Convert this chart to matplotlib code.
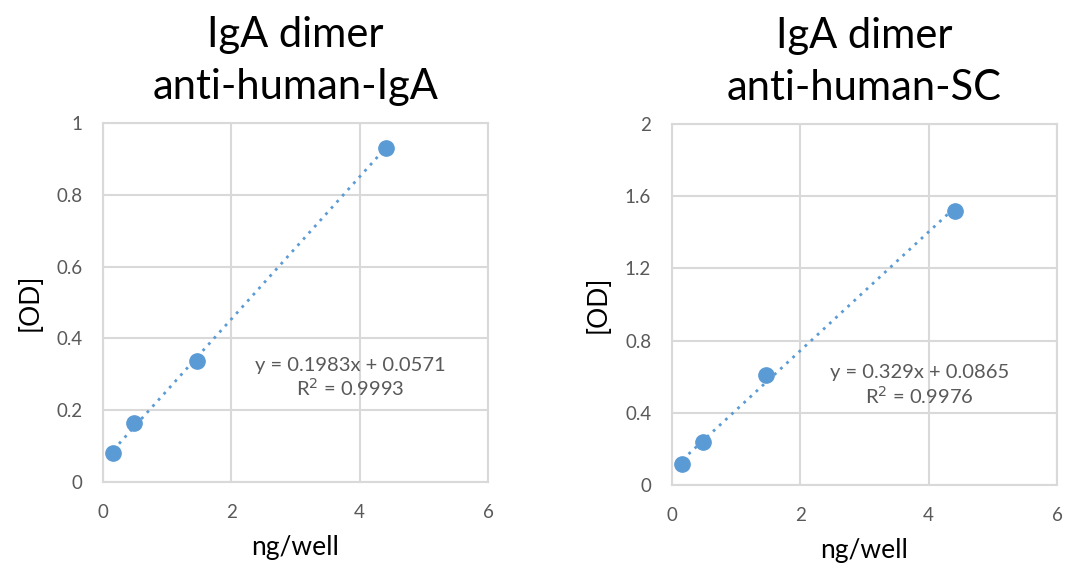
import matplotlib.pyplot as plt
import numpy as np

plt.rcParams['font.family'] = ['Lato', 'DejaVu Sans']

# Data
ng_well = [0.163, 0.49, 1.47, 4.41]
od_iga = [0.082, 0.164, 0.338, 0.931]
od_sc = [0.116, 0.240, 0.609, 1.518]

titles = ["IgA dimer\nanti-human-IgA", "IgA dimer\nanti-human-SC"]
slopes = [0.1983, 0.329]
intercepts = [0.0571, 0.0865]
y_maxes = [1, 2]
y_ticks = [[0, 0.2, 0.4, 0.6, 0.8, 1], [0, 0.4, 0.8, 1.2, 1.6, 2]]
y_ticklabels = [["0", "0.2", "0.4", "0.6", "0.8", "1"],
                ["0", "0.4", "0.8", "1.2", "1.6", "2"]]
eq_texts = ["y = 0.1983x + 0.0571\nR$^2$ = 0.9993",
            "y = 0.329x + 0.0865\nR$^2$ = 0.9976"]
eq_pos = [(3.85, 0.29), (3.86, 0.55)]

blue = "#5b9bd5"
grid_gray = "#d9d9d9"
text_gray = "#595959"

fig = plt.figure(figsize=(10.65, 5.73), dpi=100)
axes = [fig.add_axes([103 / 1065, 1 - 482 / 573, 385 / 1065, 359 / 573]),
        fig.add_axes([672 / 1065, 1 - 485 / 573, 385 / 1065, 361 / 573])]

for i, (ax, od) in enumerate(zip(axes, [od_iga, od_sc])):
    xs = np.array([min(ng_well), max(ng_well)])
    ax.plot(xs, slopes[i] * xs + intercepts[i], linestyle=(0, (1, 2)),
            color=blue, linewidth=2, zorder=2)
    ax.plot(ng_well, od, "o", color=blue, markersize=11, zorder=3)

    ax.set_xlim(0, 6)
    ax.set_ylim(0, y_maxes[i])
    ax.set_xticks([0, 2, 4, 6])
    ax.set_yticks(y_ticks[i])
    ax.set_yticklabels(y_ticklabels[i])
    ax.grid(True, color=grid_gray, linewidth=1.5)
    ax.set_axisbelow(True)
    for s in ax.spines.values():
        s.set_color(grid_gray)
        s.set_linewidth(1.5)
    ax.tick_params(length=0, labelsize=13.5, colors=text_gray)
    ax.tick_params(axis="y", pad=15)
    ax.tick_params(axis="x", pad=16)

    ax.set_title(titles[i], fontsize=30, color="#000000", pad=17, linespacing=1.45)
    ax.set_xlabel("ng/well", fontsize=19, color="#000000", labelpad=10)
    ax.set_ylabel("[OD]", fontsize=19, color="#000000", labelpad=10)

    ax.text(eq_pos[i][0], eq_pos[i][1], eq_texts[i], ha="center", va="center",
            fontsize=14.5, color=text_gray, linespacing=1.2)

fig.savefig("out.png", dpi=100)
